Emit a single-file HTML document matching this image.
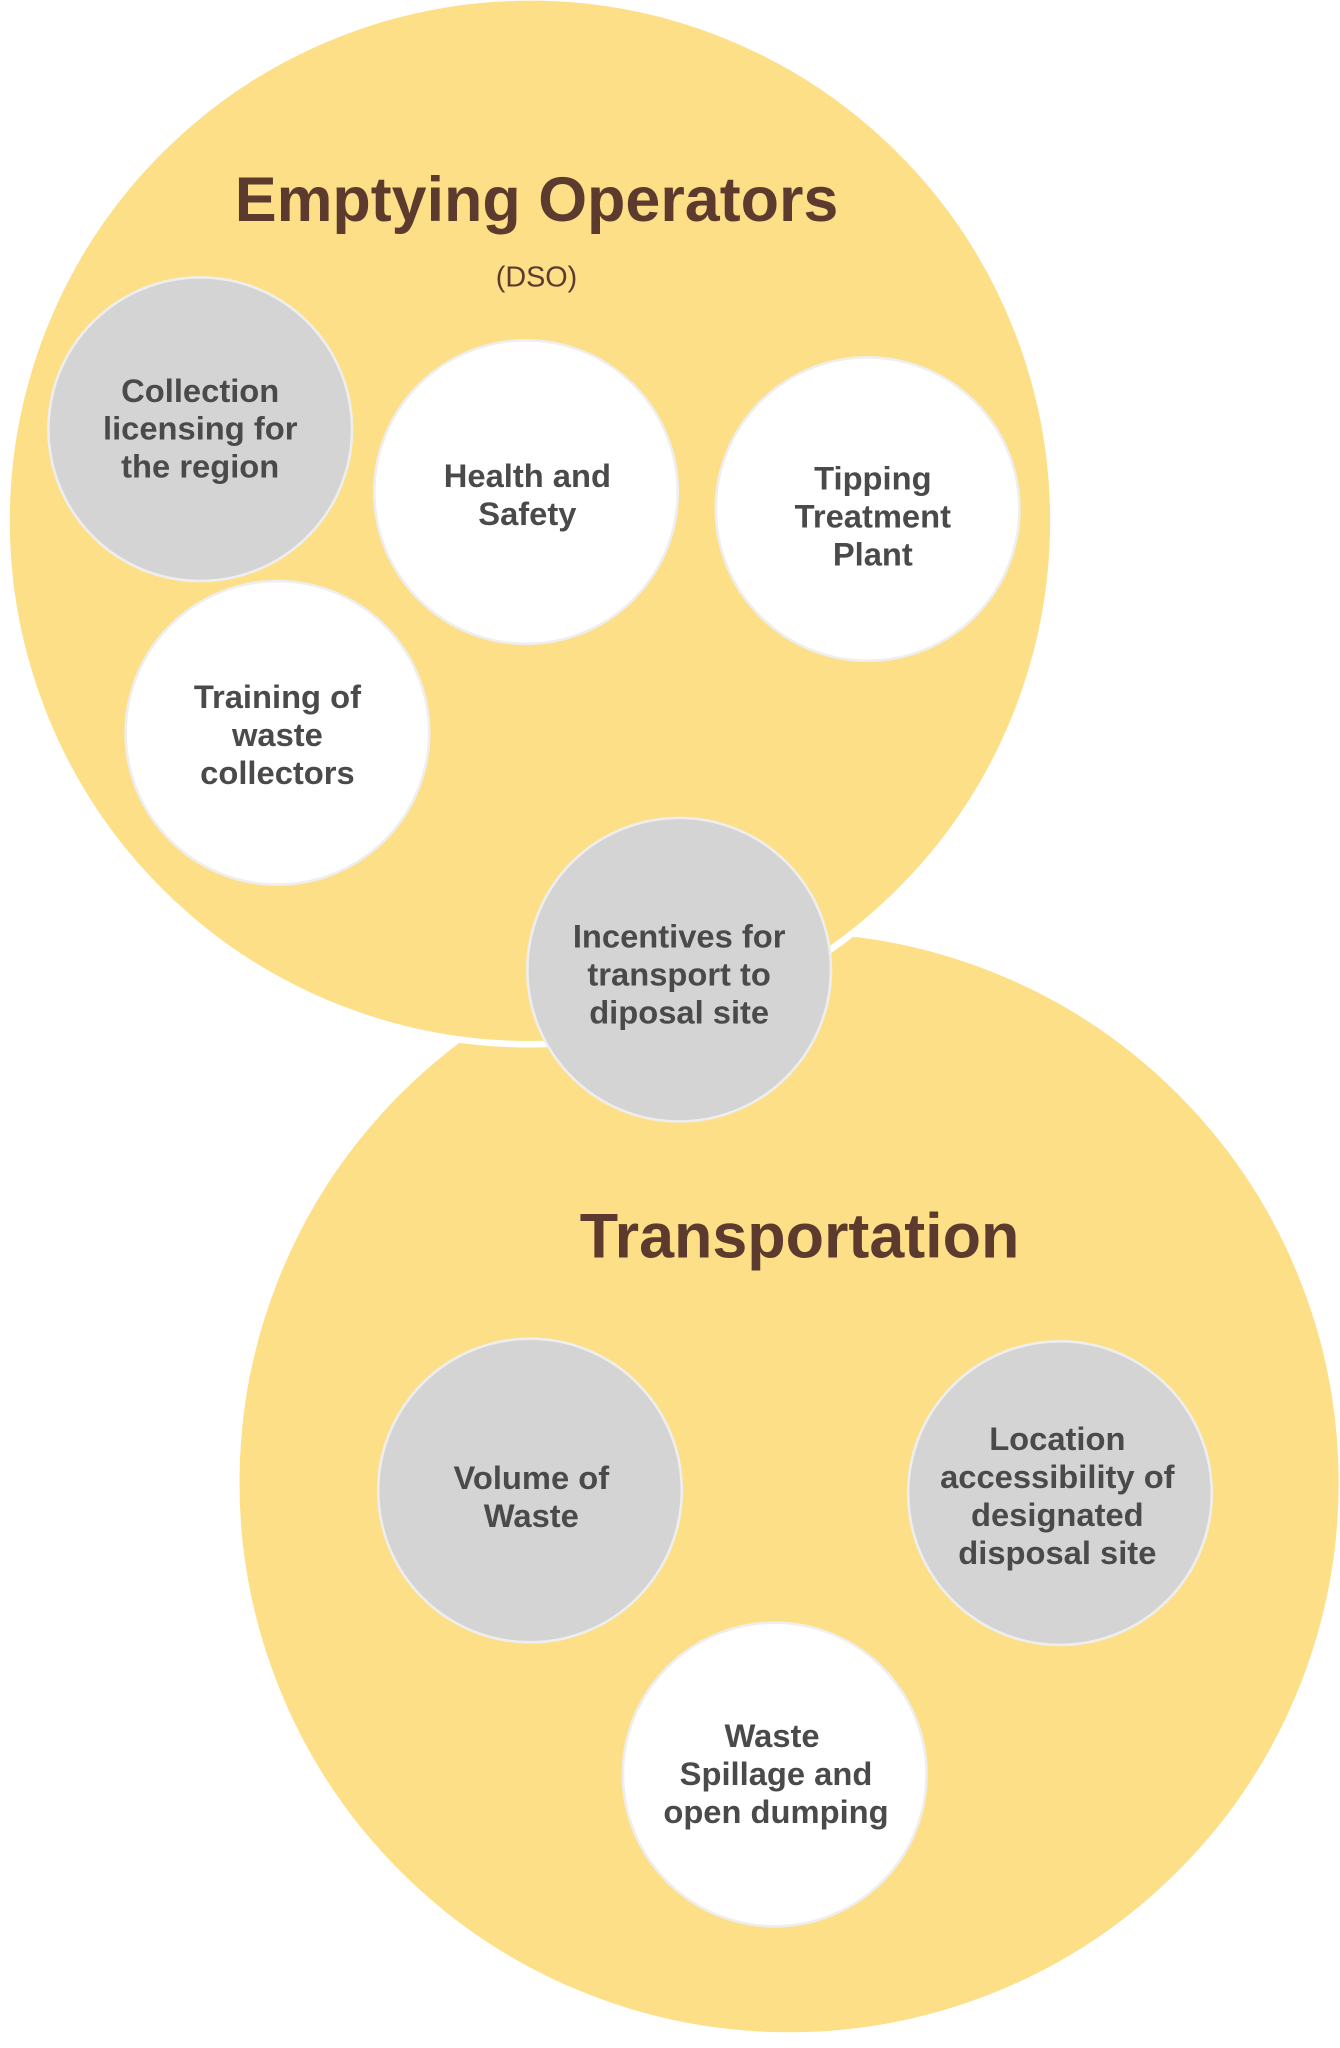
<!DOCTYPE html>
<html><head><meta charset="utf-8"><style>
html,body{margin:0;padding:0;background:#fff;}
svg{display:block;}
text{font-family:"Liberation Sans",sans-serif;}
.t{font-size:25px;font-weight:bold;fill:#4a4a4a;text-anchor:middle;}
.h{font-weight:bold;fill:#5c3b2e;text-anchor:middle;}
</style></head><body>
<svg width="1340" height="2048" viewBox="0 0 1024 1565" xmlns="http://www.w3.org/2000/svg">
<rect width="1024" height="1565" fill="#fff"/>
<circle cx="603" cy="1133" r="422" fill="#fddf87" stroke="#fff" stroke-width="4"/>
<circle cx="405" cy="398" r="400" fill="#fddf87" stroke="#fff" stroke-width="5"/>
<text class="h" x="410" y="169" font-size="48">Emptying Operators</text>
<text x="410" y="219" font-size="22" fill="#5c3b2e" text-anchor="middle">(DSO)</text>
<text class="h" x="611" y="961" font-size="48">Transportation</text>
<g stroke="#eee" stroke-width="2">
<circle cx="153" cy="328" r="116" fill="#d4d4d4"/>
<circle cx="402" cy="376" r="116" fill="#fff"/>
<circle cx="663" cy="389" r="116" fill="#fff"/>
<circle cx="212" cy="560" r="116" fill="#fff"/>
<circle cx="519" cy="741" r="116" fill="#d4d4d4"/>
<circle cx="405" cy="1139" r="116" fill="#d4d4d4"/>
<circle cx="810" cy="1141" r="116" fill="#d4d4d4"/>
<circle cx="592" cy="1356" r="116" fill="#fff"/>
</g>
<text class="t" x="153" y="307">Collection</text>
<text class="t" x="153" y="336">licensing for</text>
<text class="t" x="153" y="365">the region</text>
<text class="t" x="403" y="372">Health and</text>
<text class="t" x="403" y="401">Safety</text>
<text class="t" x="667" y="374">Tipping</text>
<text class="t" x="667" y="403">Treatment</text>
<text class="t" x="667" y="432">Plant</text>
<text class="t" x="212" y="541">Training of</text>
<text class="t" x="212" y="570">waste</text>
<text class="t" x="212" y="599">collectors</text>
<text class="t" x="519" y="724">Incentives for</text>
<text class="t" x="519" y="753">transport to</text>
<text class="t" x="519" y="782">diposal site</text>
<text class="t" x="406" y="1138">Volume of</text>
<text class="t" x="406" y="1167">Waste</text>
<text class="t" x="808" y="1108">Location</text>
<text class="t" x="808" y="1137">accessibility of</text>
<text class="t" x="808" y="1166">designated</text>
<text class="t" x="808" y="1195">disposal site</text>
<text class="t" x="590" y="1335">Waste</text>
<text class="t" x="593" y="1364">Spillage and</text>
<text class="t" x="593" y="1393">open dumping</text>
</svg>
</body></html>
